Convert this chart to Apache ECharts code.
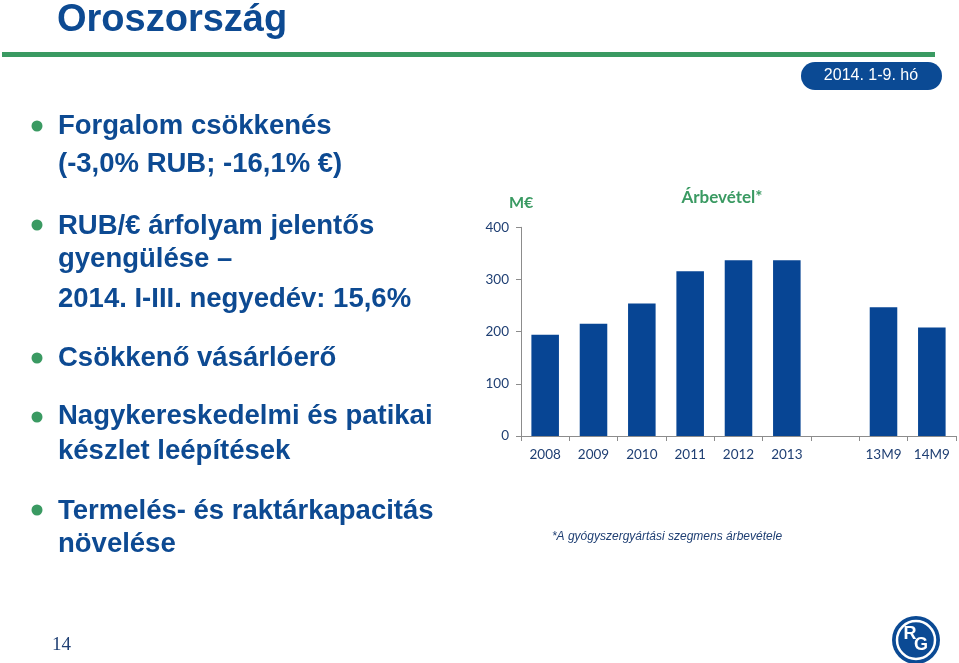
<!DOCTYPE html>
<html><head><meta charset="utf-8">
<script src="https://cdn.jsdelivr.net/npm/echarts@6/dist/echarts.min.js"></script>
<style>html,body{margin:0;padding:0;background:#fff}#c{width:959px;height:663px}</style>
</head><body><div id="c"></div>
<script>
const categories = ['2008','2009','2010','2011','2012','2013','','13M9','14M9'];
const revenue = [194, 215, 254, 316, 337, 337, null, 247, 208];
const yTicks = [0, 100, 200, 300, 400];

const NAVY = '#0D4A92';
const GREEN = '#3A9A62';
const BAR = '#074594';
const LBL = '#1F3F73';

const chart = echarts.init(document.getElementById('c'), null, {renderer: 'canvas'});

function txt(t, x, y, font, fill, align) {
  return {type: 'text', style: {text: t, x: x, y: y, font: font, fill: fill, align: align || 'left', verticalAlign: 'middle'}};
}
const bodyFont = 'bold 27.5px "Liberation Sans", Arial, sans-serif';
const lines = [
  ['Forgalom csökkenés', 126],
  ['(-3,0% RUB; -16,1% €)', 164],
  ['RUB/€ árfolyam jelentős', 226],
  ['gyengülése –', 259],
  ['2014. I-III. negyedév: 15,6%', 299],
  ['Csökkenő vásárlóerő', 358],
  ['Nagykereskedelmi és patikai', 416],
  ['készlet leépítések', 451],
  ['Termelés- és raktárkapacitás', 511],
  ['növelése', 544]
];
const dots = [126, 225, 358, 417, 510];

const graphics = [
  txt('Oroszország', 57, 21, 'bold 38px "Liberation Sans", Arial, sans-serif', NAVY),
  {type: 'rect', shape: {x: 2, y: 52, width: 933, height: 5}, style: {fill: GREEN}},
  {type: 'rect', shape: {x: 801, y: 62, width: 141, height: 28, r: 14}, style: {fill: '#0B4A94'}},
  txt('2014. 1-9. hó', 871, 76, '16px "Liberation Sans", Arial, sans-serif', '#ffffff', 'center'),
  txt('M€', 509, 203, 'bold 16px Lato, "Open Sans", sans-serif', GREEN),
  txt('Árbevétel*', 722, 198, 'bold 17px Lato, "Open Sans", sans-serif', GREEN, 'center'),
  txt('*A gyógyszergyártási szegmens árbevétele', 667, 537, 'italic 12px "Liberation Sans", Arial, sans-serif', '#1F3F73', 'center'),
  txt('14', 52, 645, '19px "Liberation Serif", "Times New Roman", serif', '#1F3F73'),
  {type: 'circle', shape: {cx: 916, cy: 640, r: 24}, style: {fill: '#0B4A94'}},
  {type: 'circle', shape: {cx: 916, cy: 640, r: 19}, style: {fill: 'none', stroke: '#ffffff', lineWidth: 2.5}},
  txt('R', 910, 634, 'bold 18px "Liberation Sans", Arial, sans-serif', '#ffffff', 'center'),
  txt('G', 921, 645, 'bold 18px "Liberation Sans", Arial, sans-serif', '#ffffff', 'center')
];
lines.forEach(l => graphics.push(txt(l[0], 58, l[1], bodyFont, NAVY)));
dots.forEach(d => graphics.push({type: 'circle', shape: {cx: 37, cy: d, r: 5.5}, style: {fill: GREEN}}));

chart.setOption({
  animation: false,
  backgroundColor: '#ffffff',
  grid: {left: 521, right: 3, top: 227.3, bottom: 227, containLabel: false},
  xAxis: {
    type: 'category', data: categories,
    axisLine: {lineStyle: {color: '#8C8C8C', width: 1}},
    axisTick: {show: true, length: 5, lineStyle: {color: '#8C8C8C'}},
    axisLabel: {color: LBL, fontSize: 13.5, fontFamily: 'Lato, "Open Sans", sans-serif', margin: 12, interval: 0}
  },
  yAxis: {
    type: 'value', min: yTicks[0], max: yTicks[yTicks.length - 1], interval: 100,
    splitLine: {show: false},
    axisLine: {show: true, lineStyle: {color: '#8C8C8C', width: 1}},
    axisTick: {show: true, length: 5, lineStyle: {color: '#8C8C8C'}},
    axisLabel: {color: LBL, fontSize: 13.5, fontFamily: 'Lato, "Open Sans", sans-serif', margin: 12}
  },
  series: [{
    type: 'bar', data: revenue, barWidth: '57%',
    itemStyle: {color: BAR}
  }],
  graphic: graphics
});
</script></body></html>
